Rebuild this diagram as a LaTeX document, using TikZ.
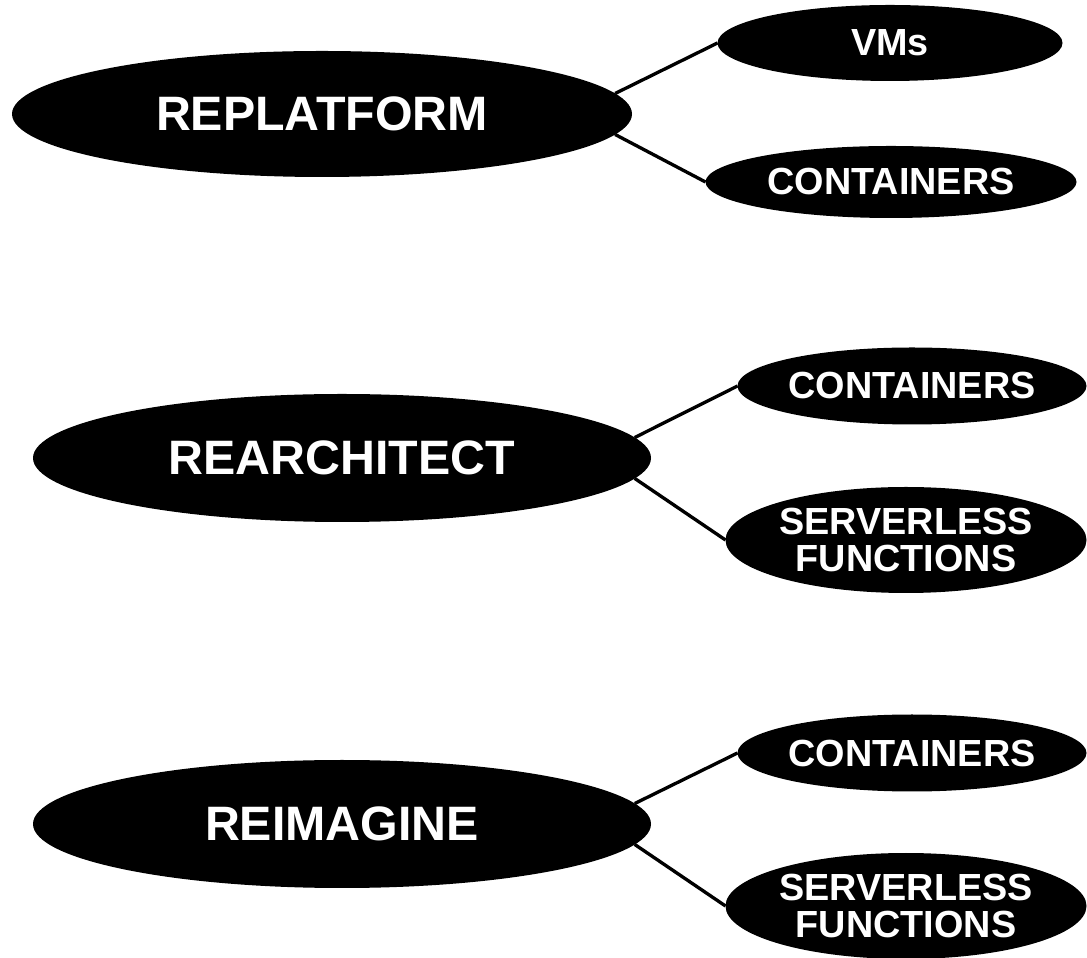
\documentclass[tikz,border=0pt]{standalone}
\usepackage{fontspec}
\setmainfont{Liberation Sans}
\usepackage{tikz}
\usetikzlibrary{shapes.geometric}

% text sits in a box of no size, so the ellipse keeps its given size
\newcommand\blobtext[1]{\makebox[0pt]{\raisebox{\dimexpr(\depth-\height)/2\relax}[0pt][0pt]{\vbox{\baselineskip=.98em\lineskiplimit=-\maxdimen\halign{\hfil##\hfil\cr#1\crcr}}}}}

\tikzset{
  blob/.style={ellipse,fill=black,text=white,inner sep=0pt,outer sep=0pt},
  bigblob/.style={blob,font=\fontsize{27.5}{30}\selectfont\bfseries},
  smallblob/.style={blob,font=\fontsize{21.5}{24}\selectfont\bfseries},
  link/.style={line width=1.9pt}
}

\begin{document}
\begin{tikzpicture}
\useasboundingbox (0,0) rectangle (21.74,19.14);
% first group
\node[bigblob,minimum width=12.4cm,minimum height=2.52cm] (rp) at (6.44,16.86) {\blobtext{REPLATFORM}};
\node[smallblob,minimum width=6.9cm,minimum height=1.52cm] (vms) at (17.8,18.28) {\blobtext{VMs}};
\node[smallblob,minimum width=7.42cm,minimum height=1.44cm] (ct1) at (17.82,15.5) {\blobtext{CONTAINERS}};
\draw[link] (rp.4) -- (vms.west);
\draw[link] (rp.-4) -- (ct1.west);
% second group
\node[bigblob,minimum width=12.36cm,minimum height=2.56cm] (ra) at (6.84,9.98) {\blobtext{REARCHITECT}};
\node[smallblob,minimum width=6.98cm,minimum height=1.54cm] (ct2) at (18.24,11.42) {\blobtext{CONTAINERS}};
\node[smallblob,minimum width=7.22cm,minimum height=2.12cm] (sf2) at (18.12,8.34) {\blobtext{SERVERLESS\cr FUNCTIONS}};
\draw[link] (ra.4) -- (ct2.west);
\draw[link] (ra.-4) -- (sf2.west);
% third group
\node[bigblob,minimum width=12.36cm,minimum height=2.56cm] (ri) at (6.84,2.66) {\blobtext{REIMAGINE}};
\node[smallblob,minimum width=6.98cm,minimum height=1.54cm] (ct3) at (18.24,4.08) {\blobtext{CONTAINERS}};
\node[smallblob,minimum width=7.22cm,minimum height=2.12cm] (sf3) at (18.12,1.02) {\blobtext{SERVERLESS\cr FUNCTIONS}};
\draw[link] (ri.4) -- (ct3.west);
\draw[link] (ri.-4) -- (sf3.west);
\end{tikzpicture}
\end{document}
